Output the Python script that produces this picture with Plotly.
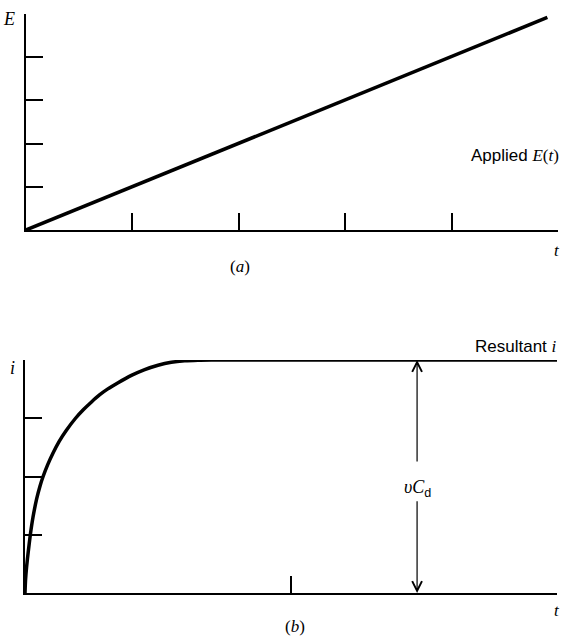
import plotly.graph_objects as go

W, H = 562, 636

# (a) potencial aplicado, rampa lineal
t_a = [0, 4.9]
E_a = [0, 4.92]
xticks_a = [1, 2, 3, 4, 5]
yticks_a = [1, 2, 3, 4, 5]

# (b) corriente resultante
t_b = [0, 0.002, 0.006, 0.012, 0.02, 0.03, 0.044, 0.056, 0.068, 0.085, 0.105,
       0.128, 0.155, 0.19, 0.22, 0.25, 0.28, 0.31, 0.35, 0.40, 0.45, 0.50,
       0.55, 0.60, 0.65, 0.70, 2.0]
i_b = [0, 0.22, 0.45, 0.70, 1.0, 1.30, 1.62, 1.83, 2.0, 2.2, 2.4,
       2.6, 2.79, 3.0, 3.15, 3.28, 3.4, 3.5, 3.61, 3.735, 3.835, 3.91,
       3.96, 3.985, 3.996, 4.0, 4.0]
xticks_b = [1, 2]
yticks_b = [1, 2, 3, 4]

# flecha vC_d
arrow_t = 1.474
arrow_top = 4.0
arrow_bottom = 0.0
gap_top = 2.23
gap_bottom = 1.6
label_y = 1.8

SERIF = "Liberation Serif"
SANS = "Liberation Sans"

fig = go.Figure()
fig.add_trace(go.Scatter(x=t_a, y=E_a, mode="lines", line=dict(color="black", width=3.5),
                         xaxis="x", yaxis="y", showlegend=False, hoverinfo="skip"))
fig.add_trace(go.Scatter(x=t_b, y=i_b, mode="lines",
                         line=dict(color="black", width=3.5, shape="spline", smoothing=0.6),
                         xaxis="x2", yaxis="y2", showlegend=False, hoverinfo="skip"))


def eje(dominio, rango, vals):
    return dict(domain=dominio, range=rango, showline=True, linecolor="black", linewidth=2,
                showgrid=False, zeroline=False, ticks="inside", ticklen=17, tickwidth=1.5,
                tickcolor="black", tickvals=vals, showticklabels=False, fixedrange=True)


fig.update_layout(
    width=W, height=H,
    margin=dict(l=0, r=0, t=0, b=0),
    paper_bgcolor="white", plot_bgcolor="white",
    xaxis=eje([26 / W, 558 / W], [0, 5], xticks_a),
    yaxis=eje([1 - 230 / H, 1 - 14 / H], [0, 5], yticks_a),
    xaxis2=eje([25 / W, 557 / W], [0, 2], xticks_b),
    yaxis2=eje([1 - 593 / H, 1 - 360 / H], [0, 4], yticks_b),
)
fig.layout.xaxis2.anchor = "y2"
fig.layout.yaxis2.anchor = "x2"

anns = [
    # panel (a)
    dict(text="<i>E</i>", x=9 / W, y=1 - 19 / H, font=dict(family=SERIF, size=18)),
    dict(text="<i>t</i>", x=557 / W, y=1 - 250 / H, font=dict(family=SERIF, size=17)),
    dict(text="Applied <span style='font-family:Liberation Serif'><i>E</i>(<i>t</i>)</span>",
         x=561 / W, y=1 - 156 / H, xanchor="right", font=dict(family=SANS, size=17)),
    dict(text="(<i>a</i>)", x=240 / W, y=1 - 266 / H, font=dict(family=SERIF, size=17)),
    # panel (b)
    dict(text="<i>i</i>", x=13 / W, y=1 - 368 / H, font=dict(family=SERIF, size=18)),
    dict(text="Resultant <span style='font-family:Liberation Serif'><i>i</i></span>",
         x=559 / W, y=1 - 346 / H, xanchor="right", font=dict(family=SANS, size=17)),
    dict(text="<i>t</i>", x=557 / W, y=1 - 610 / H, font=dict(family=SERIF, size=17)),
    dict(text="(<i>b</i>)", x=295 / W, y=1 - 626 / H, font=dict(family=SERIF, size=17)),
]
for a in anns:
    a.setdefault("xanchor", "center")
    a["font"]["color"] = "black"
    a.update(xref="paper", yref="paper", yanchor="middle", showarrow=False)
    fig.add_annotation(**a)

fig.add_annotation(x=arrow_t, y=label_y, xref="x2", yref="y2", showarrow=False,
                   text="<i>υC</i><sub><span style='font-family:Liberation Sans'>d</span></sub>",
                   font=dict(family=SERIF, size=18, color="black"))
for head, tail in [(arrow_top, gap_top), (arrow_bottom, gap_bottom)]:
    fig.add_annotation(x=arrow_t, y=head, ax=arrow_t, ay=tail, xref="x2", yref="y2",
                       axref="x2", ayref="y2", text="", showarrow=True, arrowhead=5,
                       arrowsize=1.6, arrowwidth=1.2, arrowcolor="black", standoff=0)

fig.write_html("out.html", config={"displayModeBar": False},
               post_script="document.body.style.margin='0';")
